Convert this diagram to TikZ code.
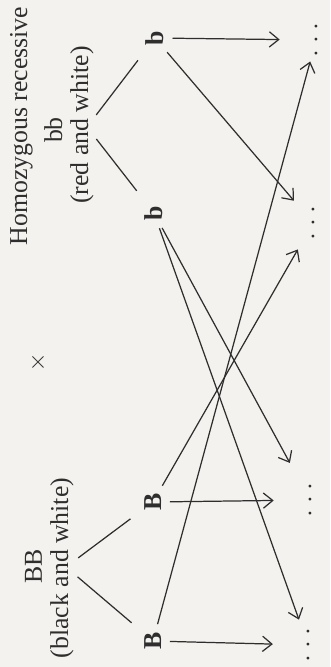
\documentclass[tikz,border=0pt]{standalone}
\usepackage{fontspec}
\setmainfont{Liberation Serif}
\usetikzlibrary{arrows.meta}
\definecolor{ink}{HTML}{2E2E2E}
\definecolor{paper}{HTML}{F4F2EF}

\begin{document}
\begin{tikzpicture}[x=0.03cm, y=-0.03cm,
    parent/.style={rotate=90, anchor=base, inner sep=0pt,
                   font=\fontsize{22}{26}\selectfont, color=ink},
    gamete/.style={rotate=90, inner sep=2pt,
                   font=\fontsize{22}{26}\selectfont\bfseries, color=ink},
    offspring/.style={rotate=90, inner sep=0pt,
                   font=\fontsize{20}{24}\selectfont, color=ink},
    fork/.style={draw=ink, line width=1.05pt,
                 shorten <=13pt, shorten >=24pt},
    cross/.style={draw=ink, line width=1.05pt, shorten <=5pt,
                  -{Straight Barb[length=8pt,width=13pt]}}]

        %% ── page ──
        \fill[paper] (0,0) rectangle (330,667);
        \useasboundingbox (0,0) rectangle (330,667);

        %% ── parents ──
        \node[parent] (recName) at (27,126) {Homozygous recessive};
        \node[parent] (recGeno) at (62,130) {bb};
        \node[parent] (recLook) at (88,125) {(red and white)};

        \node[parent] (domGeno) at (42,566) {BB};
        \node[parent] (domLook) at (68,568) {(black and white)};

        \node[color=ink, font=\fontsize{20}{24}\selectfont]
          (mate) at (38,362) {$\times$};

        %% ── gametes ──
        \node[gamete] (recOne) at (155,38)  {b};
        \node[gamete] (recTwo) at (154,213) {b};
        \node[gamete] (domOne) at (153,502) {B};
        \node[gamete] (domTwo) at (153,641) {B};

        \coordinate (recFork) at (87,127);
        \coordinate (domFork) at (66,567);

        \draw[fork] (recFork) -- (recOne.center);
        \draw[fork] (recFork) -- (recTwo.center);
        \draw[fork] (domFork) -- (domOne.center);
        \draw[fork] (domFork) -- (domTwo.center);

        %% ── offspring ──
        \foreach \n/\x/\y in {A/316/40, B/313/223, C/310/500, D/308/645}{
          \node[offspring] (off\n) at (\x,\y) {. . .};
        }

        %% ── fertilisation ──
        \foreach \from/\to/\gap in {recOne/offA/31pt, recOne/offB/25pt,
                                    domOne/offB/26pt, domOne/offC/31pt,
                                    recTwo/offC/36pt, recTwo/offD/23pt,
                                    domTwo/offD/30pt, domTwo/offA/19pt}{
          \draw[cross, shorten >=\gap] (\from) -- (\to.center);
        }

\end{tikzpicture}
\end{document}
